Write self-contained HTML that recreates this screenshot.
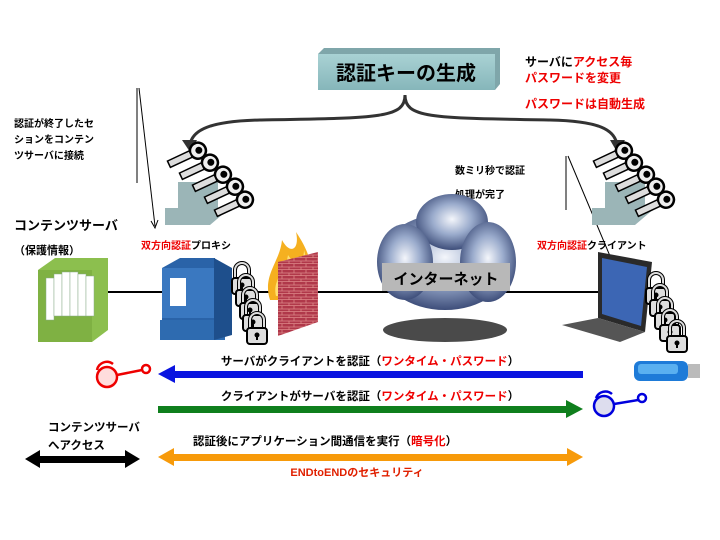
<!DOCTYPE html>
<html><head><meta charset="utf-8"><style>
html,body{margin:0;padding:0;background:#fff;width:720px;height:540px;overflow:hidden}
svg{display:block}
text{font-family:"Liberation Sans","Noto Sans CJK JP",sans-serif;font-weight:bold}
</style></head><body>
<svg width="720" height="540" viewBox="0 0 720 540" xmlns="http://www.w3.org/2000/svg">
<defs>
<radialGradient id="cl" cx="50%" cy="45%" r="55%"><stop offset="0" stop-color="#f4f6fb"/><stop offset="0.5" stop-color="#9aabcc"/><stop offset="1" stop-color="#3e4e7a"/></radialGradient>
<linearGradient id="tb" x1="0" y1="0" x2="0" y2="1"><stop offset="0" stop-color="#a9d2d4"/><stop offset="1" stop-color="#86b6ba"/></linearGradient>
<pattern id="br" width="12" height="6" patternUnits="userSpaceOnUse"><rect width="12" height="6" fill="#b0384a"/><path d="M0 5.5H12M6 0V3M0 3H12M1 3V6" stroke="#d88" stroke-width="0.8"/></pattern>
<g id="key"><g transform="rotate(-25)"><circle cx="22" cy="0" r="8" fill="#eee" stroke="#000" stroke-width="2.5"/><circle cx="23" cy="0" r="3.5" fill="#000"/><rect x="-10" y="-3.5" width="24" height="7" fill="#ddd" stroke="#000" stroke-width="1.5"/></g></g>
<g id="lock"><path d="M-7 0V-8a7 7 0 0 1 14 0V0" fill="none" stroke="#000" stroke-width="4"/><path d="M-7 0V-8a7 7 0 0 1 14 0V0" fill="none" stroke="#ddd" stroke-width="2"/><rect x="-10" y="0" width="20" height="16" rx="3" fill="#ddd" stroke="#000" stroke-width="2"/><circle cx="0" cy="7" r="2.5" fill="#000"/><rect x="-1" y="7" width="2" height="5" fill="#000"/></g>
</defs>

<path d="M318 54 L324 48 L500 48 L500 84 L495 90 Z" fill="#7fa6aa"/>
<rect x="318" y="54" width="177" height="36" fill="url(#tb)"/>
<text x="406" y="80" font-size="20" text-anchor="middle" fill="#000">認証キーの生成</text>

<path d="M405 95 C405 118 380 118 260 120 C210 121 192 130 190 145" fill="none" stroke="#333" stroke-width="3"/>
<path d="M405 95 C405 118 430 118 550 120 C600 121 615 130 617 145" fill="none" stroke="#333" stroke-width="3"/>
<path d="M182 140 L190 152 L197 140 Z" fill="#333"/>
<path d="M610 140 L617 152 L625 140 Z" fill="#333"/>

<text x="525" y="66" font-size="12"><tspan fill="#000">サーバに</tspan><tspan fill="#e00">アクセス毎</tspan></text>
<text x="525" y="82" font-size="12" fill="#e00">パスワードを変更</text>
<text x="525" y="108" font-size="12" fill="#e00">パスワードは自動生成</text>

<text x="14" y="127" font-size="10">認証が終了したセ</text>
<text x="14" y="143" font-size="10">ションをコンテン</text>
<text x="14" y="159" font-size="10">ツサーバに接続</text>
<line x1="137" y1="88" x2="137" y2="183" stroke="#000" stroke-width="1"/>
<line x1="139" y1="88" x2="155" y2="226" stroke="#000" stroke-width="1"/>
<path d="M151 221 L155 228 L158 220" fill="none" stroke="#000"/>

<text x="455" y="174" font-size="10">数ミリ秒で認証</text>
<text x="455" y="198" font-size="10">処理が完了</text>
<line x1="566" y1="156" x2="566" y2="210" stroke="#000" stroke-width="1"/>
<line x1="568" y1="156" x2="615" y2="268" stroke="#000" stroke-width="1"/>

<g>
<path d="M178 182 H218 V208 H230 L210 225 L165 225 L165 208 H178 Z" fill="#9bb5b7"/>
<use href="#key" x="178" y="160"/><use href="#key" x="190" y="172"/><use href="#key" x="203" y="184"/><use href="#key" x="215" y="196"/><use href="#key" x="225" y="209"/>
</g>
<g>
<path d="M605 182 H645 V208 H655 L635 225 L592 225 L592 208 H605 Z" fill="#9bb5b7"/>
<use href="#key" x="604" y="160"/><use href="#key" x="614" y="172"/><use href="#key" x="626" y="184"/><use href="#key" x="636" y="196"/><use href="#key" x="646" y="209"/>
</g>

<text x="14" y="230" font-size="13">コンテンツサーバ</text>
<text x="14" y="254" font-size="11">（保護情報）</text>
<text x="141" y="249" font-size="10"><tspan fill="#e00">双方向認証</tspan><tspan fill="#000">プロキシ</tspan></text>
<text x="537" y="249" font-size="10"><tspan fill="#e00">双方向認証</tspan><tspan fill="#000">クライアント</tspan></text>

<line x1="105" y1="292" x2="600" y2="292" stroke="#000" stroke-width="2"/>

<path d="M38 270 L55 258 L108 258 L108 330 L92 342 L38 342 Z" fill="#8cbf4e"/>
<rect x="38" y="270" width="54" height="72" fill="#7fb143"/>
<g fill="#fff" stroke="#8a8" stroke-width="0.5"><rect x="46" y="278" width="8" height="42"/><rect x="54" y="274" width="8" height="42"/><rect x="62" y="272" width="8" height="44"/><rect x="70" y="272" width="8" height="44"/><rect x="78" y="274" width="8" height="42"/><rect x="86" y="276" width="8" height="40"/></g>

<path d="M162 268 L180 258 L215 258 L215 330 L198 340 L162 340 Z" fill="#2a63a8"/>
<rect x="162" y="268" width="52" height="50" fill="#3a78c0"/>
<rect x="170" y="278" width="16" height="28" fill="#fff"/>
<rect x="160" y="320" width="65" height="20" fill="#2e6bb0"/>
<path d="M214 258 L232 268 L232 335 L214 340 Z" fill="#1e4f8c"/>

<use href="#lock" x="242" y="278"/><use href="#lock" x="246" y="290"/><use href="#lock" x="250" y="303"/><use href="#lock" x="253" y="315"/><use href="#lock" x="257" y="328"/>

<path d="M270 300 C262 275 280 262 282 240 C290 255 300 250 296 232 C308 250 312 262 312 280 L290 300 Z" fill="#f5b020"/>
<path d="M276 296 C272 280 286 270 288 255 C296 268 304 262 304 250 C308 262 306 278 300 296 Z" fill="#ffe070"/>
<path d="M278 262 L318 252 L318 322 L278 336 Z" fill="url(#br)"/>

<ellipse cx="445" cy="330" rx="62" ry="12" fill="#2a2a2a" opacity="0.85"/>
<g fill="url(#cl)">
<ellipse cx="445" cy="262" rx="66" ry="48"/>
<ellipse cx="452" cy="222" rx="36" ry="28"/>
<ellipse cx="405" cy="262" rx="28" ry="38"/>
<ellipse cx="488" cy="262" rx="28" ry="40"/>
</g>
<rect x="382" y="263" width="128" height="28" fill="#b8b8b8"/>
<text x="446" y="284" font-size="15" text-anchor="middle">インターネット</text>

<path d="M598 252 L652 262 L645 332 L598 318 Z" fill="#2a2a2a"/>
<path d="M602 258 L647 267 L641 326 L602 314 Z" fill="#3c66b4"/>
<path d="M598 318 L645 332 L620 342 L562 325 Z" fill="#555"/>

<use href="#lock" x="656" y="288"/><use href="#lock" x="660" y="300"/><use href="#lock" x="665" y="313"/><use href="#lock" x="670" y="325"/><use href="#lock" x="677" y="336"/>

<text x="370" y="365" font-size="11.5" text-anchor="middle"><tspan>サーバがクライアントを認証（</tspan><tspan fill="#e00">ワンタイム・パスワード</tspan><tspan>）</tspan></text>
<rect x="172" y="371" width="411" height="7" fill="#0a14e0"/>
<path d="M158 374 L175 365 L175 383 Z" fill="#0a14e0"/>

<text x="370" y="400" font-size="11.5" text-anchor="middle"><tspan>クライアントがサーバを認証（</tspan><tspan fill="#e00">ワンタイム・パスワード</tspan><tspan>）</tspan></text>
<rect x="158" y="406" width="410" height="7" fill="#0f7f1d"/>
<path d="M583 409 L566 400 L566 418 Z" fill="#0f7f1d"/>

<text x="325" y="445" font-size="11.5" text-anchor="middle"><tspan>認証後にアプリケーション間通信を実行（</tspan><tspan fill="#e00">暗号化</tspan><tspan>）</tspan></text>
<rect x="170" y="454" width="400" height="7" fill="#f79a0a"/>
<path d="M158 457 L174 448 L174 466 Z" fill="#f79a0a"/>
<path d="M583 457 L567 448 L567 466 Z" fill="#f79a0a"/>
<text x="357" y="476" font-size="11" text-anchor="middle" fill="#e02000">ENDtoENDのセキュリティ</text>

<text x="48" y="431" font-size="11.5">コンテンツサーバ</text>
<text x="48" y="449" font-size="11.5">へアクセス</text>
<rect x="36" y="456" width="92" height="7" fill="#000"/>
<path d="M25 459 L40 450 L40 468 Z M140 459 L125 450 L125 468 Z" fill="#000"/>

<g stroke="#e00" fill="none" stroke-width="2.5">
<circle cx="107" cy="377" r="10" fill="#fdd"/><path d="M97 370 a10 10 0 0 1 16 -6"/>
<path d="M117 375 L142 370"/><circle cx="146" cy="369" r="4"/>
</g>
<g stroke="#00d" fill="none" stroke-width="2.5">
<circle cx="604" cy="406" r="10" fill="#dde"/><path d="M596 398 a10 10 0 0 1 16 -4"/>
<path d="M614 404 L638 400"/><circle cx="642" cy="398" r="4"/>
</g>
<rect x="634" y="361" width="54" height="20" rx="6" fill="#1e7bd8"/>
<rect x="638" y="364" width="40" height="10" rx="3" fill="#5ab0f0"/>
<rect x="688" y="364" width="12" height="14" fill="#bbb"/>
</svg>
</body></html>
